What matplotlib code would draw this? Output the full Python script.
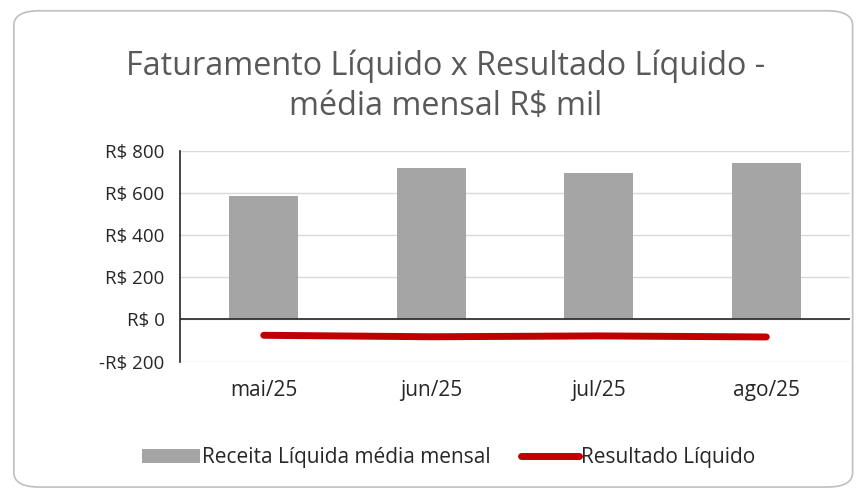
import numpy as np
import matplotlib.pyplot as plt
from matplotlib.patches import FancyBboxPatch
from matplotlib.ticker import FuncFormatter

months = ['mai/25', 'jun/25', 'jul/25', 'ago/25']
receita = [585, 718, 694, 742]
resultado = [-75, -82, -78, -83]

plt.rcParams['font.family'] = ['Open Sans', 'DejaVu Sans']

fig = plt.figure(figsize=(8.63, 4.90), dpi=100)
frame = FancyBboxPatch((0.016, 0.006), 0.972, 0.972, boxstyle='round,pad=0,rounding_size=0.03',
                       transform=fig.transFigure, facecolor='white', edgecolor='#bfbfbf', lw=1.2,
                       zorder=-1)
fig.patches.append(frame)

ax = fig.add_axes([0.2086, 0.262, 0.7764, 0.43])
x = np.arange(len(months))
bars = ax.bar(x, receita, width=0.41, color='#a5a5a5', zorder=2)
line, = ax.plot(x, resultado, color='#c00000', lw=5, solid_capstyle='round', zorder=3)

ax.set_xlim(-0.5, 3.5)
ax.set_ylim(-200, 800)
ax.set_yticks(np.arange(-200, 801, 200))
ax.yaxis.set_major_formatter(FuncFormatter(lambda v, p: ('-R$ %d' % abs(v)) if v < 0 else 'R$ %d' % v))
ax.grid(axis='y', color='#d9d9d9', lw=1, zorder=0)
ax.axhline(0, color='#262626', lw=1.2, zorder=4)
ax.set_xticks(x)
ax.set_xticklabels(months)
ax.tick_params(axis='x', length=0, pad=13, labelsize=15, labelcolor='#262626')
ax.tick_params(axis='y', length=0, pad=11, labelsize=13.5, labelcolor='#262626')
for s in ['top', 'right', 'bottom']:
  ax.spines[s].set_visible(False)
ax.spines['left'].set_color('#262626')
ax.spines['left'].set_linewidth(1.2)
ax.set_facecolor('none')

fig.text(0.516, 0.864, 'Faturamento Líquido x Resultado Líquido -', ha='center', va='center',
         fontsize=23.3, color='#595959')
fig.text(0.516, 0.783, 'média mensal R$ mil', ha='center', va='center',
         fontsize=23.3, color='#595959')

fig.legend([bars, line], ['Receita Líquida média mensal', 'Resultado Líquido'],
           loc='center', bbox_to_anchor=(0.52, 0.066), ncol=2, frameon=False,
           fontsize=15, handlelength=2.8, handletextpad=0.1, columnspacing=1.45,
           labelcolor='#262626')

fig.savefig('out.png', dpi=100)
